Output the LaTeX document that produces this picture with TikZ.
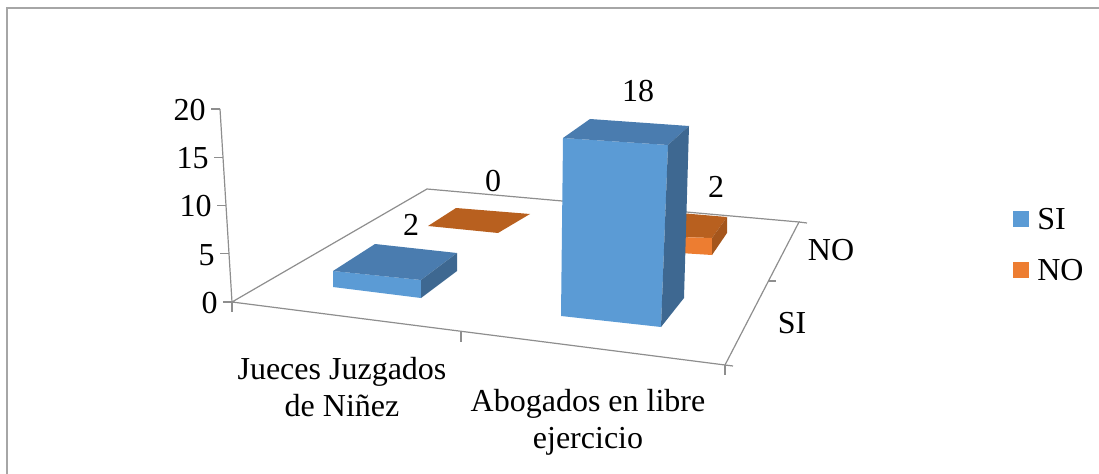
\documentclass[tikz,border=0pt]{standalone}
\usepackage{fontspec}
\setmainfont{Liberation Serif}
\definecolor{siblue}{HTML}{5B9BD5}
\definecolor{sitop}{HTML}{4A7CAF}
\definecolor{siside}{HTML}{3E6891}
\definecolor{noorange}{HTML}{ED7D31}
\definecolor{notop}{HTML}{B8601F}
\definecolor{noside}{HTML}{A5561C}
\definecolor{axisgray}{HTML}{8E8E8E}
\definecolor{framegray}{HTML}{A6A6A6}
\begin{document}
\begin{tikzpicture}[x=0.75pt,y=-0.75pt,
    axisline/.style={draw=axisgray, line width=0.9pt},
    lbl/.style={font=\fontsize{24}{28}\selectfont, inner sep=0pt}]
    \useasboundingbox (0,0) rectangle (1099,474);

    % Frame
    \draw[framegray, line width=1.3pt] (7,480) -- (7,8) -- (1105,8);

    % Floor
    \coordinate (fl) at (232,302);
    \coordinate (bl) at (427,189);
    \coordinate (br) at (799,222);
    \coordinate (fr) at (725,365);
    \draw[axisline] (fl) -- (bl) -- (br) -- (fr) -- (fl);
    \draw[axisline] (br) -- (807,223);

    % Axes
    \draw[axisline] (fl) -- (220,109);
    \foreach \v [count=\i from 0] in {0,5,10,15,20}{
        \draw[axisline] ({232-3*\i-9},{302-48.25*\i}) -- ({232-3*\i},{302-48.25*\i});
        \node[lbl,anchor=east] (y\i) at ({232-3*\i-14},{302-48.25*\i+1}) {\v};
    }
    \draw[axisline] (fl) -- (232,312);
    \draw[axisline] (461,332) -- (461,342);
    \draw[axisline] (fr) -- (725,375);
    \draw[axisline] (fr) -- (733,366);
    \draw[axisline] (768,281) -- (776,281);

    % Bars: Jueces
    \fill[notop] (428,226) -- (456,208) -- (530,214) -- (498,233) -- cycle;
    \fill[siblue] (333,271) -- (421,280) -- (421,298) -- (333,287) -- cycle;
    \fill[sitop] (333,271) -- (375,244) -- (457,253) -- (421,280) -- cycle;
    \fill[siside] (421,280) -- (457,253) -- (457,271) -- (421,298) -- cycle;

    % Bars: Abogados
    \fill[notop] (680,213) -- (727,217) -- (712,238) -- (680,237) -- cycle;
    \fill[noorange] (680,237) -- (712,238) -- (712,255) -- (680,253) -- cycle;
    \fill[noside] (712,238) -- (727,217) -- (727,233) -- (712,255) -- cycle;
    \fill[siblue] (563,138) -- (668,145) -- (661,327) -- (561,316) -- cycle;
    \fill[sitop] (563,138) -- (590,119) -- (689,126) -- (668,145) -- cycle;
    \fill[siside] (668,145) -- (689,126) -- (684,298) -- (661,327) -- cycle;

    % Labels for bars
    \node[lbl] (v1) at (411,225) {2};
    \node[lbl] (v2) at (493,181) {0};
    \node[lbl] (v3) at (638,91) {18};
    \node[lbl] (v4) at (716,187) {2};

    % Category labels
    \node[lbl,align=center] (c1) at (342,387) {Jueces Juzgados\\de Niñez};
    \node[lbl,align=center] (c2) at (588,422) {Abogados en libre\\ejercicio};
    \node[lbl] (d1) at (831,250) {NO};
    \node[lbl] (d2) at (792,323) {SI};

    % Legend
    \fill[siblue] (1013,211) rectangle (1029,227);
    \node[lbl,anchor=west] (l1) at (1037,219) {SI};
    \fill[noorange] (1013,262) rectangle (1029,278);
    \node[lbl,anchor=west] (l2) at (1037,270) {NO};
\end{tikzpicture}
\end{document}
